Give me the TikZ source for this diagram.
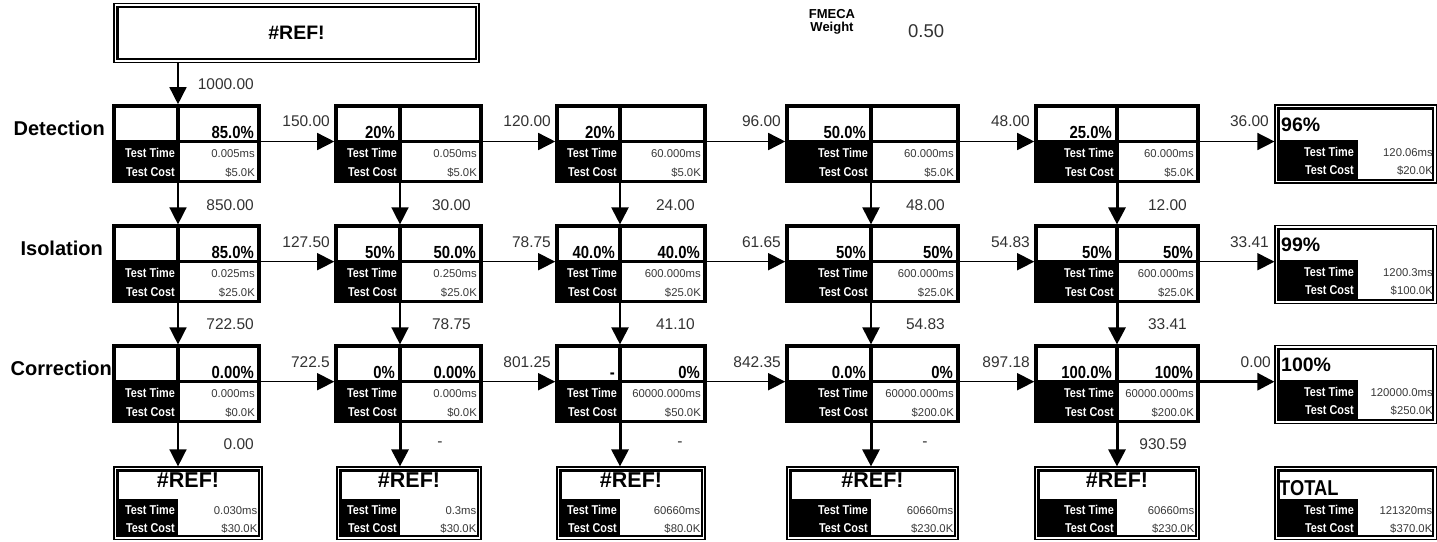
\documentclass[tikz,border=0pt]{standalone}
\usepackage{fontspec}
\setmainfont{Liberation Sans}
\newfontfamily\nar{Liberation Sans}[FakeStretch=0.85]
\usetikzlibrary{arrows.meta}
\newcommand\fs[1]{\fontsize{#1}{#1}\selectfont}
\tikzset{
 bx/.style={line width=3.5pt},
 arr/.style={line width=1.5pt,-{Triangle[length=17pt,width=17pt]}},
 arrm/.style={line width=2.2pt,-{Triangle[length=17pt,width=17pt]}},
 arrk/.style={line width=3pt,-{Triangle[length=17pt,width=17pt]}},
 pct/.style={font=\nar\bfseries\fs{17.5},inner sep=0pt},
 tl/.style={font=\nar\bfseries\fs{12.8},text=white,inner sep=0pt},
 val/.style={font=\fs{11.3},text=black!78,inner sep=0pt},
 num/.style={font=\fs{15.5},text=black!80,inner sep=0pt},
 rowlab/.style={font=\bfseries\fs{20},inner sep=0pt},
 stitle/.style={font=\bfseries\fs{19.5},inner sep=0pt},
 btitle/.style={font=\bfseries\fs{21.5},inner sep=0pt},
}
\newcommand\dblrect[4]{%
 \draw[line width=1.2pt] (#1,#2) rectangle (#3,#4);
 \draw[line width=2.2pt] (#1+3.4,#2+3.4) rectangle (#3-3.4,#4-3.4);}
% name, L, D, R, M, lefttext, righttext, time, cost
\newcommand\tbox[9]{%
 \fill (#2,#5) rectangle (#3,#5+40);
 \draw[bx] (#2,#5-35.5) rectangle (#4,#5+40);
 \draw[bx] (#3,#5-35.5) -- (#3,#5+40);
 \draw[bx] (#2,#5) -- (#4,#5);
 \node[pct,anchor=base east] (#1-p1) at (#3-5,#5-3) {#6};
 \node[pct,anchor=base east] (#1-p2) at (#4-5,#5-3) {#7};
 \node[tl,anchor=base east] (#1-tt) at (#3-3,#5+15.5) {Test Time};
 \node[tl,anchor=base east] (#1-tc) at (#3-3,#5+35) {Test Cost};
 \node[val,anchor=base east] (#1-vt) at (#4-4,#5+15.5) {#8};
 \node[val,anchor=base east] (#1-vc) at (#4-4,#5+35) {#9};
 \coordinate (#1-t) at (#3,#5-37.3);
 \coordinate (#1-b) at (#3,#5+41.7);
 \coordinate (#1-l) at (#2-1.8,#5);
 \coordinate (#1-r) at (#4+1.8,#5);}
% name, M, title, time, cost
\newcommand\sumbox[5]{%
 \fill (1278.5,#2-1.5) rectangle (1358,#2+38.3);
 \dblrect{1275}{#2-36.5}{1436.4}{#2+41.5}
 \node[stitle,anchor=base west] (#1-h) at (1281,#2-10) {#3};
 \node[tl,anchor=base east] (#1-tt) at (1354,#2+14.5) {Test Time};
 \node[tl,anchor=base east] (#1-tc) at (1354,#2+33) {Test Cost};
 \node[val,anchor=base east] (#1-vt) at (1433,#2+14.5) {#4};
 \node[val,anchor=base east] (#1-vc) at (1433,#2+33) {#5};
 \coordinate (#1-l) at (1274.4,#2);}
% name, L, D, R, time, cost
\newcommand\botbox[6]{%
 \fill (#2+3,499) rectangle (#3,536);
 \dblrect{#2}{467}{#4}{539.3}
 \node[btitle,anchor=base] (#1-h) at ({(#2+#4)/2},487.5) {\#REF!};
 \node[tl,anchor=base east] (#1-tt) at (#3-3,514) {Test Time};
 \node[tl,anchor=base east] (#1-tc) at (#3-3,532) {Test Cost};
 \node[val,anchor=base east] (#1-vt) at (#4-4.5,514) {#5};
 \node[val,anchor=base east] (#1-vc) at (#4-4.5,532) {#6};
 \coordinate (#1-t) at (#3,466.4);}
\begin{document}
\begin{tikzpicture}[x=1pt,y=-1pt]
\useasboundingbox[fill=white] (0,0) rectangle (1437,541);
% top box
\dblrect{114}{3.5}{479}{62.5}
\node[font=\bfseries\fs{19.5},inner sep=0pt] (top) at (296.5,33) {\#REF!};
\coordinate (top-b) at (178,63.1);
% FMECA weight
\node[font=\bfseries\fs{13},inner sep=0pt,anchor=base] (fm1) at (832,18) {FMECA};
\node[font=\bfseries\fs{13},inner sep=0pt,anchor=base] (fm2) at (832,31.5) {Weight};
\node[font=\fs{18.5},text=black!80,inner sep=0pt,anchor=base west] (fmw) at (908,37) {0.50};
% row labels
\node[rowlab,anchor=base east] (lD) at (105,135) {Detection};
\node[rowlab,anchor=base east] (lI) at (103,255) {Isolation};
\node[rowlab,anchor=base east] (lC) at (112,375) {Correction};
% detection row
\tbox{D1}{114}{178}{259}{141.5}{}{85.0\%}{0.005ms}{\$5.0K}
\tbox{D2}{336}{400}{481}{141.5}{20\%}{}{0.050ms}{\$5.0K}
\tbox{D3}{557}{620}{705}{141.5}{20\%}{}{60.000ms}{\$5.0K}
\tbox{D4}{787}{871}{958}{141.5}{50.0\%}{}{60.000ms}{\$5.0K}
\tbox{D5}{1036}{1117}{1198}{141.5}{25.0\%}{}{60.000ms}{\$5.0K}
\sumbox{DS}{141.5}{96\%}{120.06ms}{\$20.0K}
% isolation row
\tbox{I1}{114}{178}{259}{261.7}{}{85.0\%}{0.025ms}{\$25.0K}
\tbox{I2}{336}{400}{481}{261.7}{50\%}{50.0\%}{0.250ms}{\$25.0K}
\tbox{I3}{557}{620}{705}{261.7}{40.0\%}{40.0\%}{600.000ms}{\$25.0K}
\tbox{I4}{787}{871}{958}{261.7}{50\%}{50\%}{600.000ms}{\$25.0K}
\tbox{I5}{1036}{1117}{1198}{261.7}{50\%}{50\%}{600.000ms}{\$25.0K}
\sumbox{IS}{261.7}{99\%}{1200.3ms}{\$100.0K}
% correction row
\tbox{C1}{114}{178}{259}{381.7}{}{0.00\%}{0.000ms}{\$0.0K}
\tbox{C2}{336}{400}{481}{381.7}{0\%}{0.00\%}{0.000ms}{\$0.0K}
\tbox{C3}{557}{620}{705}{381.7}{-\hspace{23pt}}{0\%}{60000.000ms}{\$50.0K}
\tbox{C4}{787}{871}{958}{381.7}{0.0\%}{0\%}{60000.000ms}{\$200.0K}
\tbox{C5}{1036}{1117}{1198}{381.7}{100.0\%}{100\%}{60000.000ms}{\$200.0K}
\sumbox{CS}{381.7}{100\%}{120000.0ms}{\$250.0K}
% bottom boxes
\botbox{B1}{114}{178}{262}{0.030ms}{\$30.0K}
\botbox{B2}{337}{400}{481}{0.3ms}{\$30.0K}
\botbox{B3}{557}{620}{705}{60660ms}{\$80.0K}
\botbox{B4}{787}{871}{958}{60660ms}{\$230.0K}
\botbox{B5}{1035}{1117}{1199}{60660ms}{\$230.0K}
% total box
\fill (1278.4,499) rectangle (1358,536);
\dblrect{1275}{467}{1436.4}{539.3}
\node[font=\nar\bfseries\fs{21.5},inner sep=0pt,anchor=base west] (T-h) at (1279,495) {TOTAL};
\node[tl,anchor=base east] (T-tt) at (1354,514) {Test Time};
\node[tl,anchor=base east] (T-tc) at (1354,532) {Test Cost};
\node[val,anchor=base east] (T-vt) at (1432.5,514) {121320ms};
\node[val,anchor=base east] (T-vc) at (1432.5,532) {\$370.0K};
% arrows vertical
\draw[arr] (top-b) -- (D1-t);
\draw[arr] (D1-b) -- (I1-t);
\draw[arr] (I1-b) -- (C1-t);
\draw[arr] (C1-b) -- (B1-t);
\draw[arr] (D2-b) -- (I2-t);
\draw[arr] (I2-b) -- (C2-t);
\draw[arrk] (C2-b) -- (B2-t);
\draw[arrm] (D3-b) -- (I3-t);
\draw[arrm] (I3-b) -- (C3-t);
\draw[arrk] (C3-b) -- (B3-t);
\draw[arrm] (D4-b) -- (I4-t);
\draw[arrm] (I4-b) -- (C4-t);
\draw[arrk] (C4-b) -- (B4-t);
\draw[arrk] (D5-b) -- (I5-t);
\draw[arrk] (I5-b) -- (C5-t);
\draw[arrk] (C5-b) -- (B5-t);
% arrows horizontal
\draw[arr] (D1-r) -- (D2-l);
\draw[arr] (D2-r) -- (D3-l);
\draw[arr] (D3-r) -- (D4-l);
\draw[arr] (D4-r) -- (D5-l);
\draw[arr] (D5-r) -- (DS-l);
\draw[arr] (I1-r) -- (I2-l);
\draw[arr] (I2-r) -- (I3-l);
\draw[arr] (I3-r) -- (I4-l);
\draw[arr] (I4-r) -- (I5-l);
\draw[arr] (I5-r) -- (IS-l);
\draw[arr] (C1-r) -- (C2-l);
\draw[arr] (C2-r) -- (C3-l);
\draw[arr] (C3-r) -- (C4-l);
\draw[arr] (C4-r) -- (C5-l);
\draw[arrk] (C5-r) -- (CS-l);
% vertical flow labels
\node[num,anchor=east] (v0) at (254,84.5) {1000.00};
\node[num,anchor=east] (v11) at (254,205) {850.00};
\node[num,anchor=east] (v12) at (471,205) {30.00};
\node[num,anchor=east] (v13) at (695,205) {24.00};
\node[num,anchor=east] (v14) at (945,205) {48.00};
\node[num,anchor=east] (v15) at (1187,205) {12.00};
\node[num,anchor=east] (v21) at (254,324) {722.50};
\node[num,anchor=east] (v22) at (471,324) {78.75};
\node[num,anchor=east] (v23) at (695,324) {41.10};
\node[num,anchor=east] (v24) at (945,324) {54.83};
\node[num,anchor=east] (v25) at (1187,324) {33.41};
\node[num,anchor=east] (v31) at (254,444) {0.00};
\node[num] (v32) at (440,444) {-};
\node[num] (v33) at (680,444) {-};
\node[num] (v34) at (925,444) {-};
\node[num,anchor=east] (v35) at (1187,444) {930.59};
% horizontal flow labels
\node[num,anchor=east] (h11) at (330,121.5) {150.00};
\node[num,anchor=east] (h12) at (551,121.5) {120.00};
\node[num,anchor=east] (h13) at (781,121.5) {96.00};
\node[num,anchor=east] (h14) at (1030,121.5) {48.00};
\node[num,anchor=east] (h15) at (1269,121.5) {36.00};
\node[num,anchor=east] (h21) at (330,241.7) {127.50};
\node[num,anchor=east] (h22) at (551,241.7) {78.75};
\node[num,anchor=east] (h23) at (781,241.7) {61.65};
\node[num,anchor=east] (h24) at (1030,241.7) {54.83};
\node[num,anchor=east] (h25) at (1269,241.7) {33.41};
\node[num,anchor=east] (h31) at (330,361.7) {722.5};
\node[num,anchor=east] (h32) at (551,361.7) {801.25};
\node[num,anchor=east] (h33) at (781,361.7) {842.35};
\node[num,anchor=east] (h34) at (1030,361.7) {897.18};
\node[num,anchor=east] (h35) at (1271,361.7) {0.00};
\end{tikzpicture}
\end{document}
